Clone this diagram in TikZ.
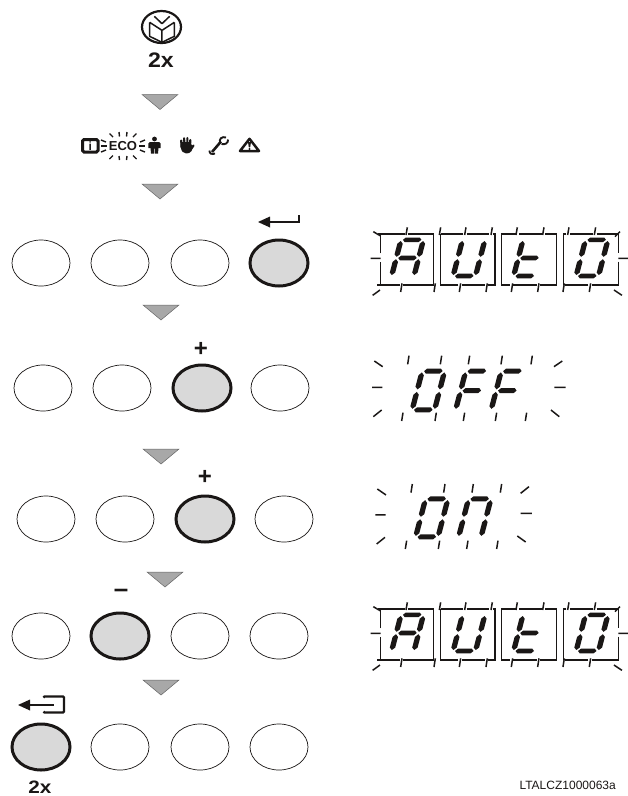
\documentclass[tikz,border=0pt]{standalone}
\usepackage{fontspec}
\setmainfont{Liberation Sans}
\usetikzlibrary{shapes.geometric,arrows.meta}
\definecolor{blk}{HTML}{1A1716}
\definecolor{keygray}{HTML}{D9D9D9}
\definecolor{arrowgray}{HTML}{A8A8A8}
\newcommand{\hs}[3]{\fill[blk] (#1,#3) -- (#1+2.3,#3-2.3) -- (#2-2.3,#3-2.3) -- (#2,#3) -- (#2-2.3,#3+2.3) -- (#1+2.3,#3+2.3) -- cycle;}
\newcommand{\vs}[3]{\fill[blk] (#1,#2) -- (#1+2.7,#2+2.7) -- (#1+2.7,#3-2.4) -- (#1,#3) -- (#1-2.7,#3-2.4) -- (#1-2.7,#2+2.7) -- cycle;}
\newcommand{\sega}{\hs{4.5}{23}{-38.2}}
\newcommand{\segg}{\hs{4.5}{23}{-20}}
\newcommand{\segd}{\hs{4.5}{23}{-2}}
\newcommand{\segf}{\vs{2.6}{-37}{-21.2}}
\newcommand{\sege}{\vs{2.6}{-18.8}{-3}}
\newcommand{\segb}{\vs{25}{-37}{-21.2}}
\newcommand{\segc}{\vs{25}{-18.8}{-3}}
\newcommand{\DIG}[4][1]{\begin{scope}[shift={(#2,#3)},xslant=.26,yscale=#1]\foreach \s in {#4}{\csname seg\s\endcsname}\end{scope}}
\newcommand{\autodisp}[1]{%
 \begin{scope}[shift={(360,#1)},x=.3333pt,y=-.3333pt,ray]
  \draw[frame] (62,100)--(62,48) (55,42)--(135,42) (145,42)--(220,42)--(220,195)--(130,195) (120,195)--(50,195) (62,195)--(62,125);
  \draw[frame] (242,42)--(310,42) (320,42)--(388,42) (400,42)--(405,42)--(405,195)--(385,195) (375,195)--(305,195) (295,195)--(242,195)--(242,42);
  \draw[frame] (455,42)--(425,42)--(425,195)--(450,195) (460,195)--(530,195) (540,195)--(590,195)--(590,42)--(555,42) (545,42)--(478,42) (468,42)--(455,42);
  \draw[frame] (610,195)--(610,42)--(618,42) (630,42)--(700,42) (710,42)--(775,42)--(775,100) (775,125)--(775,195)--(695,195) (685,195)--(615,195);
  \foreach \t in {140,240,316,395,470,550,625,705}{\draw (\t-2,45)--(\t+2,22);}
  \foreach \t in {124,224,300,380,456,535,611,690}{\draw (\t+2,190)--(\t-2,216);}
  \draw (40,35)--(62,48) (765,50)--(780,35) (38,226)--(60,210) (762,210)--(786,226) (32,115)--(62,115) (775,115)--(804,115);
 \end{scope}}
\tikzset{
 key/.style={ellipse,draw=blk,line width=.7pt,minimum width=58pt,minimum height=46pt,inner sep=0pt,fill=white},
 keyon/.style={key,fill=keygray,line width=3pt},
 ray/.style={blk,line width=1.5pt},
 frame/.style={blk,line width=1.2pt},
 nextmark/.style={fill=arrowgray,draw=black!60,line width=.5pt,line join=miter},
 lab/.style={inner sep=0pt,text=blk},
 sign/.style={blk,line width=2.4pt,line join=miter},
}
\begin{document}
\begin{tikzpicture}[x=1pt,y=-1pt]
\useasboundingbox (0,0) rectangle (628,796);
% book icon
\draw[blk,line width=2.2pt] (161.5,27) ellipse [x radius=19.5,y radius=16];
\begin{scope}[shift={(135,5)},x=.3333pt,y=-.3333pt]
 \draw[blk,line width=1.5pt,line join=round] (81,76)--(81,112) (44,52)--(81,76)--(118,52) (44,52)--(44,94)--(81,112)--(118,94)--(118,52) (58,34)--(81,56)--(104,34);
\end{scope}
\node[lab,font=\bfseries\fontsize{21}{21}\selectfont,xscale=1.1] (twoa) at (161,60.5) {2x};
% next marks
\foreach \n/\cx/\ty in {ma/160/94.5,mb/160/184,mc/161/305,md/161/449,me/165/572,mf/161/680}{
 \fill[nextmark] (\cx-18,\ty) -- (\cx+18,\ty) -- (\cx,\ty+15) -- cycle;
}
% status icons
\draw[blk,line width=3pt,rounded corners=1.5pt] (82.5,139.5) rectangle (98,152);
\node[lab,font=\bfseries\fontsize{12}{12}\selectfont] (infoi) at (90.2,146) {i};
\node[lab,font=\bfseries\fontsize{13}{13}\selectfont] (eco) at (123,146.5) {ECO};
\begin{scope}[line width=1.4pt,blk]
 \draw (101,146)--(107,146) (139,146)--(145,146);
 \draw (119,132)--(119.5,136.5) (127,132)--(126.5,136.5) (119,156)--(119.5,160) (127,156)--(126.5,160);
 \draw (109.5,133.5)--(113,137) (136.5,133.5)--(133,137) (109.5,159)--(113,155.5) (136.5,159)--(133,155.5);
 \draw (101,140)--(106,142) (145,140)--(140,142) (101,152)--(106,150) (145,152)--(140,150);
\end{scope}
% person
\fill[blk] (154.5,139) circle [radius=2.4];
\fill[blk] (148.3,148) -- (148.3,143.5) -- (150,142) -- (159,142) -- (160.7,143.5) -- (160.7,148) -- (158.5,148) -- (158,153.5) -- (155,153.5) -- (154.9,148.5) -- (154.1,148.5) -- (154,153.5) -- (151,153.5) -- (150.5,148) -- cycle;
% hand
\fill[blk,rounded corners=2pt] (180.5,142) -- (190.5,142) -- (192.5,147) -- (191,153) -- (184,153.5) -- (180.5,149) -- cycle;
\draw[blk,line width=2.1pt,line cap=round] (181.5,147)--(181.2,140.5) (184.5,145)--(184.1,138.2) (187.4,145)--(187.4,138) (190.1,146)--(190.3,140) (190.5,150)--(193.5,145.5);
% wrench
\draw[blk,line width=2.6pt] (212,152)--(221,141.5);
\draw[blk,line width=1.9pt] (220.2,143) .. controls (218.5,139) and (222,136) .. (226,137.5);
\draw[blk,line width=1.9pt] (221.5,144) .. controls (225,145) and (228.5,143) .. (228,139.5);
\draw[blk,line width=1.8pt] (209.5,150.5) .. controls (209,153.5) and (212,155) .. (215,153.5);
% warning
\draw[blk,line width=2.5pt,line join=round] (249.5,138.8) -- (259,151) -- (240,151) -- cycle;
\fill[blk] (248,142) -- (251,142) -- (250.2,147.3) -- (248.8,147.3) -- cycle;
\fill[blk] (249.5,149) circle [radius=1.1];
% keys
\foreach \n/\k/\cx/\cy in {ra/a/41/263,ra/b/120/263,ra/c/200/263,
 rb/a/43/388,rb/b/122/388,rb/d/280/388,
 rc/a/46/519,rc/b/125/519,rc/d/284/519,
 rd/a/41/636,rd/c/200/636,rd/d/279/636,
 re/b/120/747,re/c/200/747,re/d/279/747}{
 \node[key] (\n\k) at (\cx,\cy) {};
}
\node[keyon] (rad) at (279,263) {};
\node[keyon] (rbc) at (202,388) {};
\node[keyon] (rcc) at (205,519) {};
\node[keyon] (rdb) at (120,636) {};
\node[keyon] (rea) at (41,747) {};
% signs
\draw[sign] (299,215)--(299,222)--(268,222);
\fill[blk] (258,222)--(270,216.5)--(270,227.5)--cycle;
\node[lab,font=\bfseries\fontsize{24}{24}\selectfont] (plusa) at (201,349) {+};
\node[lab,font=\bfseries\fontsize{24}{24}\selectfont] (plusb) at (205,477) {+};
\node[lab,font=\bfseries\fontsize{26}{26}\selectfont] (minus) at (121,593) {–};
\draw[sign] (28,705)--(54,705);
\fill[blk] (18,705)--(30,699.5)--(30,710.5)--cycle;
\draw[sign,rounded corners=1pt] (43.5,697.5)--(43.5,696.5)--(64,696.5)--(64,712.5)--(43.5,712.5)--(43.5,711.5);
\node[lab,font=\bfseries\fontsize{18}{18}\selectfont,xscale=1.15] (twob) at (40,787.5) {2x};
\node[lab,anchor=east,font=\fontsize{12}{12}\selectfont] (code) at (616,785) {LTALCZ1000063a};
% displays
\autodisp{220}
\autodisp{595}
\DIG{388.5}{278}{a,b,c,e,f,g}
\DIG{450}{278}{b,c,d,e,f}
\DIG{510.5}{278}{e,f,g,d}
\DIG{573}{278}{a,b,c,d,e,f}
\DIG{388.5}{653}{a,b,c,e,f,g}
\DIG{450}{653}{b,c,d,e,f}
\DIG{510.5}{653}{e,f,g,d}
\DIG{573}{653}{a,b,c,d,e,f}
\DIG[1.07]{409}{412}{a,b,c,d,e,f}
\DIG[1.07]{452.5}{412}{a,e,f,g}
\DIG[1.07]{488}{412}{a,e,f,g}
\DIG[1.05]{412.5}{539}{a,b,c,d,e,f}
\DIG[1.05]{455.5}{539}{a,b,c,e,f}
\begin{scope}[shift={(360,340)},x=.3333pt,y=-.3333pt,ray]
 \foreach \t in {145,243,327,425,515}{\draw (\t-2,73)--(\t+2,47);}
 \foreach \t in {127,227,312,408,498}{\draw (\t-2,243)--(\t+2,218);}
 \draw (43,63)--(68,80) (582,80)--(607,63) (40,230)--(65,210) (573,210)--(598,230) (36,142)--(67,142) (583,142)--(617,142);
 \foreach \t in {155,253,338,423}{\draw (\t-2,458)--(\t+2,432);}
 \foreach \t in {138,237,322,412}{\draw (\t-2,627)--(\t+2,602);}
 \draw (52,447)--(78,465) (482,460)--(507,440) (50,612)--(75,592) (472,588)--(497,606) (46,525)--(77,525) (482,520)--(516,520);
\end{scope}
\end{tikzpicture}
\end{document}
